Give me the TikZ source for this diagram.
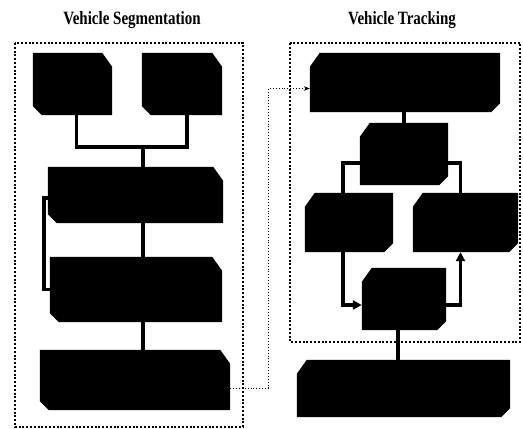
\documentclass[tikz,border=0pt]{standalone}
\usepackage{fontspec}
\setmainfont{Liberation Serif}
\usetikzlibrary{arrows.meta, positioning, calc}

% chamfered black blocks: top-right/bottom-left or top-left/bottom-right
\newcommand{\chamL}[1]{%
  \fill[black] (#1.north west) -- ($(#1.north east)+(-10,0)$) -- ($(#1.north east)+(0,14)$)
    -- (#1.south east) -- ($(#1.south west)+(9,0)$) -- ($(#1.south west)+(0,-9)$) -- cycle;}
\newcommand{\chamR}[1]{%
  \fill[black] ($(#1.north west)+(10,0)$) -- (#1.north east) -- ($(#1.south east)+(0,-9)$)
    -- ($(#1.south east)+(-9,0)$) -- (#1.south west) -- ($(#1.north west)+(0,14)$) -- cycle;}
\newcommand{\tallcap}[1]{\scalebox{1}[1.25]{#1}}

\tikzset{
  blk/.style={rectangle, draw=none, inner sep=0pt},
  link/.style={line width=3.4pt, black},
  flow/.style={link, -{Triangle[length=9pt, width=9pt]}},
  frame/.style={line width=2pt, dash pattern=on 2pt off 1.8pt},
  title/.style={font=\fontsize{15}{18}\selectfont\bfseries}
}

\begin{document}
\begin{tikzpicture}[x=1pt, y=-1pt]
    \useasboundingbox (0,0) rectangle (523,429);

    % Frames
    \draw[frame] (15,43) rectangle (243,427);
    \draw[frame] (290,43) rectangle (520,342);

    % Titles
    \node[title] (tseg) at (132,20) {\tallcap{Vehicle Segmentation}};
    \node[title] (ttrk) at (402,20) {\tallcap{Vehicle Tracking}};

    % Segmentation blocks
    \node[blk, minimum width=79pt, minimum height=62pt] (segA) at (72.5,84) {};
    \node[blk, minimum width=80pt, minimum height=62pt] (segB) at (182,84) {};
    \node[blk, minimum width=175pt, minimum height=56pt] (segC) at (135.5,195) {};
    \node[blk, minimum width=172pt, minimum height=65pt] (segD) at (136,289.5) {};
    \node[blk, minimum width=190pt, minimum height=60pt] (segE) at (135,380) {};

    % Tracking blocks
    \node[blk, minimum width=190pt, minimum height=59pt] (trkF) at (405,82.5) {};
    \node[blk, minimum width=88pt, minimum height=62pt] (trkG) at (404,154) {};
    \node[blk, minimum width=88pt, minimum height=59pt] (trkH) at (349,222.5) {};
    \node[blk, minimum width=105pt, minimum height=59pt] (trkI) at (465.5,222.5) {};
    \node[blk, minimum width=84pt, minimum height=62pt] (trkJ) at (404,299) {};
    \node[blk, minimum width=213pt, minimum height=57pt] (trkK) at (403.5,388.5) {};

    \foreach \b in {segA,segB,segC,segD,segE} {\chamL{\b}}
    \foreach \b in {trkF,trkG,trkH,trkI,trkJ,trkK} {\chamR{\b}}

    % Segmentation links
    \coordinate (jAB) at (143,147);
    \draw[link] ([xshift=4pt]segA.south) |- (jAB) -| ([xshift=5pt]segB.south);
    \draw[link] (jAB) -- (jAB |- segC.north);
    \draw[link] (jAB |- segC.south) -- (jAB |- segD.north);
    \draw[link] (jAB |- segD.south) -- (jAB |- segE.north);
    \draw[link] ([yshift=-3pt]segC.west) -- ++(-4,0) |- (segD.west);

    % Hand-over
    \draw[line width=0.9pt, dotted, -{Stealth[length=6pt]}]
        ([yshift=-8pt]segE.east) -- ++(38,0) |- ([yshift=-6pt]trkF.west);

    % Tracking links
    \draw[link] (trkG.north |- trkF.south) -- (trkG.north);
    \draw[link] ([yshift=-9pt]trkG.west) -| ([xshift=-6pt]trkH.north);
    \draw[link] ([yshift=-9pt]trkG.east) -| ([xshift=-5pt]trkI.north);
    \draw[flow] ([xshift=-6pt]trkH.south) |- ([yshift=-6pt]trkJ.west);
    \draw[flow] ([yshift=-6pt]trkJ.east) -| ([xshift=-5pt]trkI.south);
    \draw[link] ([xshift=-6pt]trkJ.south) -- ([xshift=-6pt]trkJ.south |- trkK.north);
\end{tikzpicture}
\end{document}
